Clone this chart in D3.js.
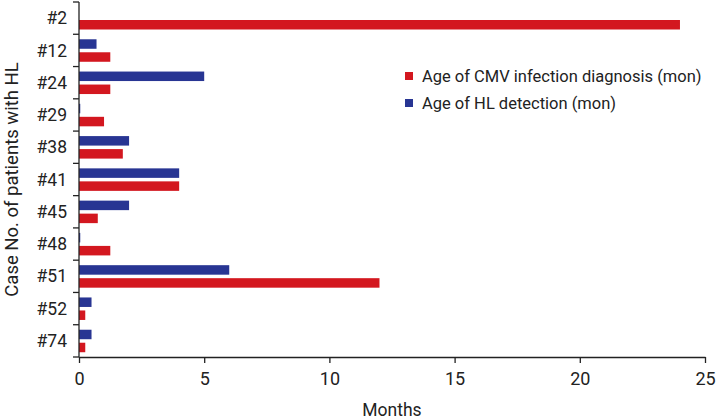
<!DOCTYPE html>
<html><head><meta charset="utf-8">
<script src="https://cdn.jsdelivr.net/npm/d3@7"></script>
<style>body{margin:0;background:#fff}svg{display:block}text{font-family:Roboto,"Noto Sans",sans-serif;fill:#222}</style>
</head><body><svg id="c" width="716" height="420"></svg>
<script>
const cases = ["#2","#12","#24","#29","#38","#41","#45","#48","#51","#52","#74"];
const hlDetection = [0,0.7,5,0.05,2,4,2,0.05,6,0.5,0.5];
const cmvDiagnosis = [24,1.25,1.25,1,1.75,4,0.75,1.25,12,0.25,0.25];
const xTicks = [0,5,10,15,20,25];
const seriesNames = ["Age of CMV infection diagnosis (mon)","Age of HL detection (mon)"];
const colors = {cmv:"#d3171f", hl:"#283593"};

const svg = d3.select("#c");
const m = {l:79, r:11, t:2, b:63};
const W = 716, H = 420;
const x = d3.scaleLinear().domain([0,25]).range([m.l, W-m.r]);
const y = d3.scaleBand().domain(cases).range([m.t, H-m.b]);
const bh = 9.5;

const g = svg.append("g");
cases.forEach((c,i)=>{
  const y0 = y(c);
  if (hlDetection[i] > 0) g.append("rect").attr("x", x(0)).attr("y", y0+5)
    .attr("width", x(hlDetection[i])-x(0)).attr("height", bh).attr("fill", colors.hl);
  g.append("rect").attr("x", x(0)).attr("y", y0+18)
    .attr("width", x(cmvDiagnosis[i])-x(0)).attr("height", bh).attr("fill", colors.cmv);
});

// x axis
const xa = svg.append("g").attr("transform",`translate(0,${H-m.b})`)
  .call(d3.axisBottom(x).tickValues(xTicks).tickSize(6).tickPadding(9).tickSizeOuter(0));
xa.selectAll("text").style("font-size","18px").attr("fill","#222");
xa.selectAll("line,path").attr("stroke","#222").attr("stroke-width",1.3);

// y axis: boundaries ticks
const ya = svg.append("g").attr("transform",`translate(${m.l},0)`);
ya.append("line").attr("x1",0).attr("x2",0).attr("y1",m.t).attr("y2",H-m.b).attr("stroke","#222").attr("stroke-width",1.3);
const bounds = cases.map(c=>y(c)).concat([H-m.b]);
ya.selectAll("line.t").data(bounds).enter().append("line").attr("class","t")
  .attr("x1",-6).attr("x2",0).attr("y1",d=>d).attr("y2",d=>d).attr("stroke","#222").attr("stroke-width",1.3);
ya.selectAll("text").data(cases).enter().append("text")
  .attr("x",-12).attr("y",d=>y(d)+y.bandwidth()/2).attr("dy","0.35em")
  .attr("text-anchor","end").style("font-size","17.5px").text(d=>d);

svg.append("text").attr("transform",`translate(18,${(m.t+H-m.b)/2}) rotate(-90)`)
  .attr("text-anchor","middle").style("font-size","18.5px").text("Case No. of patients with HL");
svg.append("text").attr("x",(x(0)+x(25))/2).attr("y",416)
  .attr("text-anchor","middle").style("font-size","17.5px").text("Months");

// legend
const leg = svg.append("g");
[[seriesNames[0],colors.cmv,72],[seriesNames[1],colors.hl,99]].forEach(([t,c,yy])=>{
  leg.append("rect").attr("x",405).attr("y",yy).attr("width",8).attr("height",8).attr("fill",c);
  leg.append("text").attr("x",422).attr("y",yy+4).attr("dy","0.35em").style("font-size","16.5px").text(t);
});
</script></body></html>
